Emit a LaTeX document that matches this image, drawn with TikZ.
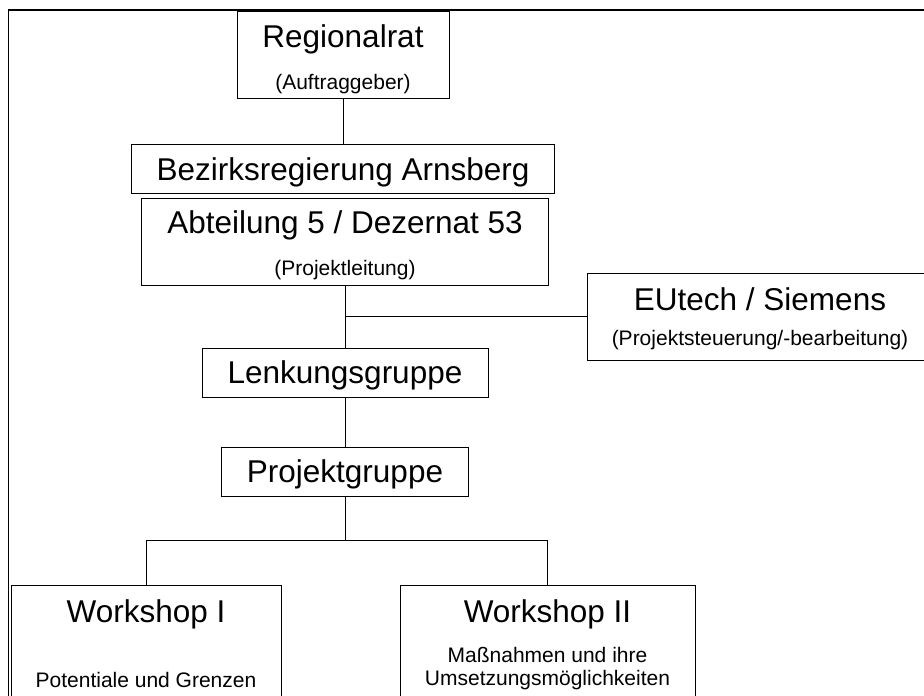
\documentclass[tikz,border=0pt]{standalone}
\usepackage{fontspec}
\setmainfont{Liberation Sans}
\usepackage{tikz}
\usetikzlibrary{positioning, calc}

\tikzset{
  box/.style={draw, line width=0.9pt, inner sep=0pt, outer sep=0pt},
  big/.style={font=\fontsize{31.5}{36}\selectfont, anchor=base, inner sep=0pt},
  small/.style={font=\fontsize{21}{24}\selectfont, anchor=base, inner sep=0pt}
}

\begin{document}
\begin{tikzpicture}[x=1pt, y=-1pt]
    \useasboundingbox (0,0) rectangle (924,696);
    \clip (0,0) rectangle (924,696);
    \draw[line width=1.6pt] (8.5,10) rectangle (950,730);

    \node[box, minimum width=212, minimum height=87] (reg) at (343,54.5) {}
      node at ([yshift=-36pt]reg.north) [big] {Regionalrat}
      node at ([yshift=-78pt]reg.north) [small] {(Auftraggeber)};
    \node[box, minimum width=423, minimum height=49, below=46pt of reg] (bez) {}
      node at ([yshift=-36pt]bez.north) [big] {Bezirksregierung Arnsberg};
    \node[box, minimum width=407, minimum height=87, below=5pt of bez, xshift=2pt] (abt) {}
      node at ([yshift=-35pt]abt.north) [big] {Abteilung 5 / Dezernat 53}
      node at ([yshift=-77pt]abt.north) [small] {(Projektleitung)};
    \node[box, minimum width=346, minimum height=87] (eu) at (760,316.5) {}
      node at ([yshift=-37pt]eu.north) [big] {EUtech / Siemens}
      node at ([yshift=-72pt]eu.north) [small] {(Projektsteuerung/-bearbeitung)};
    \node[box, minimum width=286, minimum height=49, below=63pt of abt] (lenk) {}
      node at ([yshift=-35pt]lenk.north) [big] {Lenkungsgruppe};
    \node[box, minimum width=247, minimum height=49, below=50pt of lenk] (proj) {}
      node at ([yshift=-35pt]proj.north) [big] {Projektgruppe};
    \node[box, minimum width=270, minimum height=135] (ws1) at (146,652.5) {}
      node at ([yshift=-37pt]ws1.north) [big] {Workshop I}
      node at ([yshift=-102pt]ws1.north) [small] {Potentiale und Grenzen};
    \node[box, minimum width=295, minimum height=135] (ws2) at (547.5,652.5) {}
      node at ([yshift=-37pt]ws2.north) [big] {Workshop II}
      node at ([yshift=-77pt]ws2.north) [small] {Maßnahmen und ihre}
      node at ([yshift=-100pt]ws2.north) [small] {Umsetzungsmöglichkeiten};

    \draw[line width=0.9pt] (reg.south) -- (reg.south |- bez.north);
    \draw[line width=0.9pt] (abt.south) -- (abt.south |- lenk.north);
    \draw[line width=0.9pt] (abt.south |- eu.west) -- (eu.west);
    \draw[line width=0.9pt] (lenk.south -| abt.south) -- (proj.north -| abt.south);
    \draw[line width=0.9pt] (proj.south -| abt.south) -- ++(0,44);
    \draw[line width=0.9pt] (ws1.north) -- ++(0,-45) -| (ws2.north);
\end{tikzpicture}
\end{document}
